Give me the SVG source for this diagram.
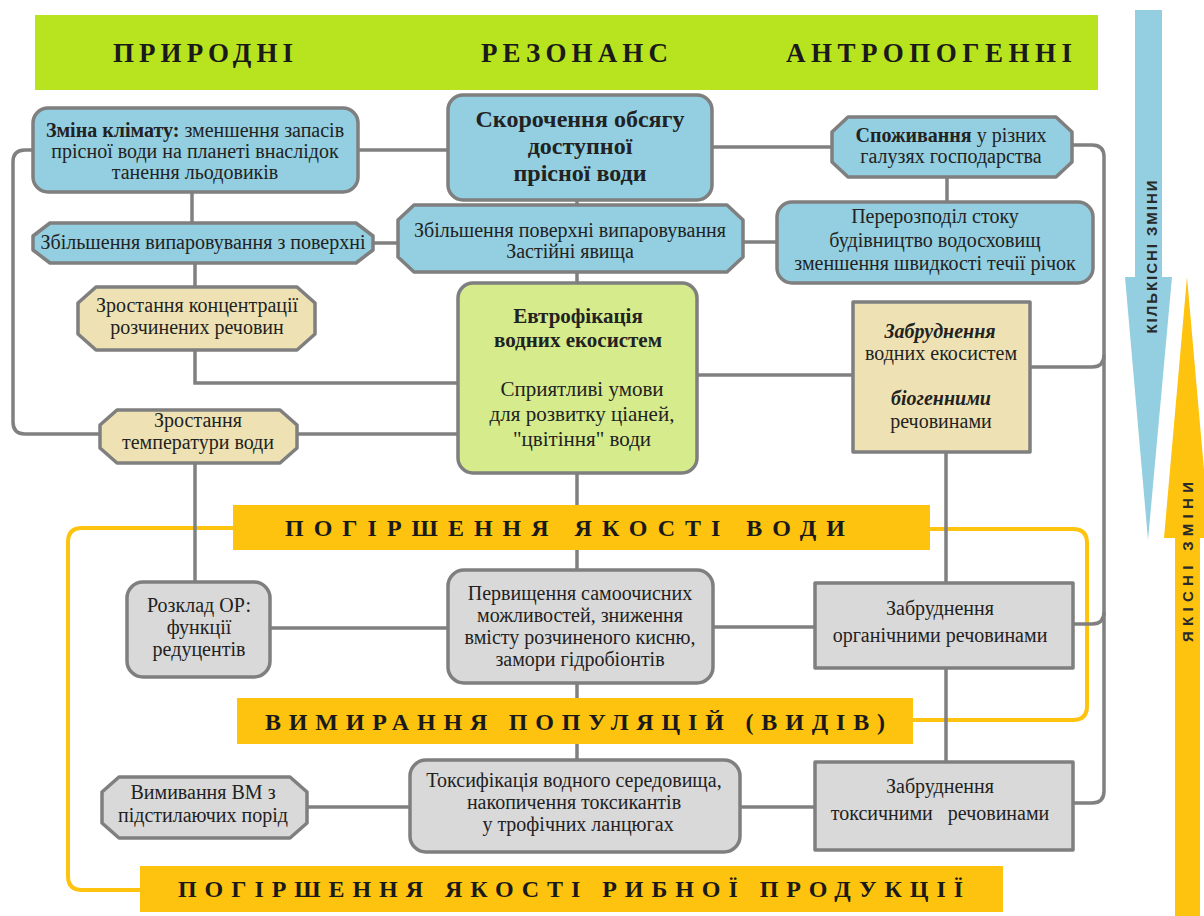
<svg xmlns="http://www.w3.org/2000/svg" width="1204" height="916" viewBox="0 0 1204 916">
<style>
.box{stroke:#7f7f7f;stroke-width:3.5;stroke-linejoin:round}
.blue{fill:#93cfe0}
.tan{fill:#eee2b4}
.green{fill:#d5eb8c}
.gray{fill:#d9d9d9}
.t{font-family:"Liberation Serif","Times New Roman",serif;font-size:20px;fill:#222;text-anchor:middle}
.b{font-weight:bold}
.bi{font-weight:bold;font-style:italic}
.e{font-size:21px}
.s{font-size:24px;font-weight:bold}
.conn{fill:none;stroke:#808080;stroke-width:3.5}
.yl{fill:none;stroke:#fec30f;stroke-width:4}
.ban{fill:#fec30f}
.bt{font-family:"Liberation Serif","Times New Roman",serif;font-weight:bold;font-size:24px;fill:#1a1a1a}
.ht{font-family:"Liberation Serif","Times New Roman",serif;font-weight:bold;font-size:27px;fill:#1a1a1a}
.at{font-family:"Liberation Sans",Arial,sans-serif;font-weight:bold;font-size:15px;fill:#2a2a2a;text-anchor:middle}
</style>

<!-- header -->
<g id="header">
<rect x="35" y="15" width="1063" height="75" fill="#b8e31f"/>
<text class="ht" x="113" y="62" textLength="180" lengthAdjust="spacing">ПРИРОДНІ</text>
<text class="ht" x="481" y="62" textLength="187" lengthAdjust="spacing">РЕЗОНАНС</text>
<text class="ht" x="786" y="62" textLength="286" lengthAdjust="spacing">АНТРОПОГЕННІ</text>
</g>

<!-- side arrows -->
<g id="arrow-quant">
<polygon points="1135,10 1162,10 1162,277 1172,277 1148,540 1125,277 1135,277" fill="#93cfe0"/>
<text class="at" transform="translate(1157,257) rotate(-90)" textLength="153" lengthAdjust="spacing">КІЛЬКІСНІ ЗМІНИ</text>
</g>
<g id="arrow-qual">
<polygon points="1187,277 1210,538 1200,538 1200,916 1175,916 1175,538 1164,538" fill="#fec30f"/>
<text class="at" transform="translate(1193,562) rotate(-90)" textLength="160" lengthAdjust="spacing">ЯКІСНІ ЗМІНИ</text>
</g>

<!-- connectors -->
<g id="connectors">
<path class="yl" d="M233,528 H82 Q68,528 68,542 V876 Q68,890 82,890 H140"/>
<path class="yl" d="M930,529 H1073 Q1087,529 1087,543 V706 Q1087,720 1073,720 H913"/>
<path class="conn" d="M33,150 H25 Q13,150 13,162 V422 Q13,434 25,434 H100"/>
<path class="conn" d="M358,150 H448"/>
<path class="conn" d="M192,192 V223"/>
<path class="conn" d="M195,263 V287"/>
<path class="conn" d="M373,243 H398"/>
<path class="conn" d="M195,350 V383 H458"/>
<path class="conn" d="M297,434 H458"/>
<path class="conn" d="M195,463 V582"/>
<path class="conn" d="M577,200 V205 M577,272 V283 M577,473 V505 M577,550 V570 M577,683 V698 M577,744 V760"/>
<path class="conn" d="M712,147 H832"/>
<path class="conn" d="M743,242 H777"/>
<path class="conn" d="M947,177 V202"/>
<path class="conn" d="M697,375 H853"/>
<path class="conn" d="M1072,145 H1092 Q1104,145 1104,157 V791 Q1104,803 1092,803 H1073"/>
<path class="conn" d="M1030,367 H1092 Q1104,367 1104,355"/>
<path class="conn" d="M1073,624 H1092 Q1104,624 1104,612"/>
<path class="conn" d="M946,452 V583 M946,668 V762"/>
<path class="conn" d="M270,628 H448"/>
<path class="conn" d="M713,627 H815"/>
<path class="conn" d="M307,807 H410"/>
<path class="conn" d="M740,807 H815"/>
</g>

<!-- banners -->
<g id="banner-water">
<rect class="ban" x="233" y="505" width="697" height="45"/>
<text class="bt" x="285" y="536" textLength="560" lengthAdjust="spacing">ПОГІРШЕННЯ ЯКОСТІ ВОДИ</text>
</g>
<g id="banner-species">
<rect class="ban" x="237" y="698" width="676" height="46"/>
<text class="bt" x="265" y="730" textLength="620" lengthAdjust="spacing">ВИМИРАННЯ ПОПУЛЯЦІЙ (ВИДІВ)</text>
</g>
<g id="banner-fish">
<rect class="ban" x="140" y="866" width="863" height="46"/>
<text class="bt" x="178" y="897" textLength="785" lengthAdjust="spacing">ПОГІРШЕННЯ ЯКОСТІ РИБНОЇ ПРОДУКЦІЇ</text>
</g>

<!-- nodes -->
<g id="climate">
<rect class="box blue" x="33" y="108" width="325" height="84" rx="15"/>
<text class="t" x="195" y="137"><tspan class="b">Зміна клімату:</tspan> зменшення запасів</text>
<text class="t" x="195" y="158">прісної води на планеті внаслідок</text>
<text class="t" x="195" y="179">танення льодовиків</text>
</g>
<g id="reduction">
<rect class="box blue" x="448" y="95" width="264" height="105" rx="15"/>
<text class="t s" x="580" y="127">Скорочення обсягу</text>
<text class="t s" x="580" y="154">доступної</text>
<text class="t s" x="580" y="181">прісної води</text>
</g>
<g id="consumption">
<path class="box blue" d="M848,117 H1056 L1072,132 V162 L1056,177 H848 L832,162 V132 Z"/>
<text class="t" x="951" y="142"><tspan class="b">Споживання</tspan> у різних</text>
<text class="t" x="951" y="163">галузях господарства</text>
</g>
<g id="evap-left">
<path class="box blue" d="M50,223 H356 L373,236 V250 L356,263 H50 L33,250 V236 Z"/>
<text class="t" x="203" y="249">Збільшення випаровування з поверхні</text>
</g>
<g id="evap-center">
<path class="box blue" d="M414,205 H727 L743,220 V257 L727,272 H414 L398,257 V220 Z"/>
<text class="t" x="570" y="237">Збільшення поверхні випаровування</text>
<text class="t" x="570" y="258">Застійні явища</text>
</g>
<g id="redistribution">
<rect class="box blue" x="777" y="202" width="316" height="81" rx="15"/>
<text class="t" x="935" y="223">Перерозподіл стоку</text>
<text class="t" x="935" y="247">будівництво водосховищ</text>
<text class="t" x="935" y="270">зменшення швидкості течії річок</text>
</g>
<g id="concentration">
<path class="box tan" d="M96,287 H297 L315,303 V334 L297,350 H96 L78,334 V303 Z"/>
<text class="t" x="197" y="312">Зростання концентрації</text>
<text class="t" x="197" y="334">розчинених речовин</text>
</g>
<g id="eutrophication">
<rect class="box green" x="458" y="283" width="239" height="190" rx="15"/>
<text class="t b e" x="578" y="323">Евтрофікація</text>
<text class="t b e" x="578" y="347">водних екосистем</text>
<text class="t e" x="582" y="396">Сприятливі умови</text>
<text class="t e" x="582" y="421">для розвитку ціаней,</text>
<text class="t e" x="582" y="446">"цвітіння" води</text>
</g>
<g id="biogenic">
<rect class="box tan" x="853" y="302" width="177" height="150"/>
<text class="t bi" x="940" y="338">Забруднення</text>
<text class="t" x="941" y="360">водних екосистем</text>
<text class="t bi" x="941" y="405">біогенними</text>
<text class="t" x="941" y="428">речовинами</text>
</g>
<g id="temperature">
<path class="box tan" d="M117,410 H280 L297,425 V448 L280,463 H117 L100,448 V425 Z"/>
<text class="t" x="198" y="427">Зростання</text>
<text class="t" x="198" y="449">температури води</text>
</g>
<g id="decomposition">
<rect class="box gray" x="127" y="582" width="143" height="95" rx="16"/>
<text class="t" x="199" y="612">Розклад ОР:</text>
<text class="t" x="199" y="634">функції</text>
<text class="t" x="199" y="656">редуцентів</text>
</g>
<g id="selfpurification">
<rect class="box gray" x="448" y="570" width="265" height="113" rx="16"/>
<text class="t" x="580" y="600">Первищення самоочисних</text>
<text class="t" x="580" y="622">можливостей, зниження</text>
<text class="t" x="580" y="644">вмісту розчиненого кисню,</text>
<text class="t" x="580" y="666">замори гідробіонтів</text>
</g>
<g id="organic">
<rect class="box gray" x="815" y="583" width="258" height="85"/>
<text class="t" x="940" y="615">Забруднення</text>
<text class="t" x="940" y="642">органічними речовинами</text>
</g>
<g id="leaching">
<path class="box gray" d="M119,777 H290 L307,792 V823 L290,838 H119 L102,823 V792 Z"/>
<text class="t" x="203" y="799">Вимивання ВМ з</text>
<text class="t" x="203" y="822">підстилаючих порід</text>
</g>
<g id="toxification">
<rect class="box gray" x="410" y="760" width="330" height="92" rx="16"/>
<text class="t" x="574" y="787">Токсифікація водного середовища,</text>
<text class="t" x="574" y="809">накопичення токсикантів</text>
<text class="t" x="578" y="831">у трофічних ланцюгах</text>
</g>
<g id="toxic">
<rect class="box gray" x="815" y="762" width="258" height="88"/>
<text class="t" x="940" y="793">Забруднення</text>
<text class="t" x="940" y="820">токсичними&#160;&#160; речовинами</text>
</g>
</svg>
